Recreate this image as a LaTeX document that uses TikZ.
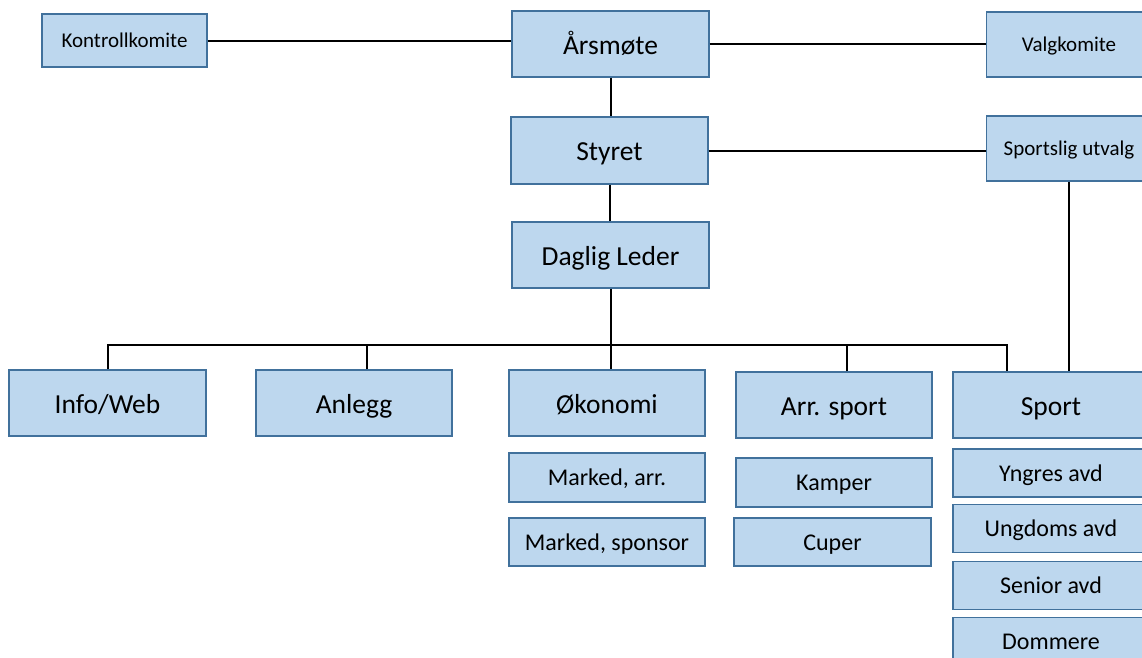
\documentclass[tikz,border=0pt]{standalone}
\usepackage{fontspec}
\setmainfont{Carlito}
\usepackage{xcolor}
\usepackage{tikz}
\usetikzlibrary{
        positioning
    }
\definecolor{boxfill}{HTML}{BDD7EE}
\definecolor{boxline}{HTML}{41719C}

\begin{document}
\begin{tikzpicture}[x=1pt, y=-1pt,
baseshape/.style={rectangle, draw=boxline, fill=boxfill, line width=1.2pt, inner sep=0pt, text centered, text depth=0pt},
mainbox/.style={baseshape, minimum width=197pt, minimum height=66pt, text height=20pt, font=\fontsize{27.5}{32}\selectfont},
subbox/.style={baseshape, minimum width=196pt, minimum height=48pt, text height=16.5pt, font=\fontsize{24}{28}\selectfont},
komite/.style={baseshape, minimum width=165pt, minimum height=65pt, text height=14.5pt, font=\fontsize{21}{25}\selectfont},
conn/.style={line width=2pt, black},
]
\useasboundingbox (0,0) rectangle (1142,657);
\clip (0,0) rectangle (1142,657);
\fill[white] (0,0) rectangle (1142,657);

\node (kontroll) [komite, minimum height=53pt] at (124.5,40.5) {Kontrollkomite};
\node (aarsmote) [mainbox] at (610.5,44) {Årsmøte};
\node (valg) [komite] at (1069,44.5) {Valgkomite};
\node (styret) [mainbox, minimum height=67pt] at (609.5,150.5) {Styret};
\node (sportslig) [komite] at (1069,148.5) {Sportslig utvalg};
\node (daglig) [mainbox] at (610.5,255) {Daglig Leder};

\node (info) [mainbox] at (107.5,403) {Info/Web};
\node (anlegg) [mainbox, minimum width=196pt] at (354,403) {Anlegg};
\node (okonomi) [mainbox, minimum width=196pt] at (607,403) {Økonomi};
\node (arrsport) [mainbox, minimum width=196pt] at (834,405) {Arr. sport};
\node (sport) [mainbox, minimum width=196pt] at (1051,405) {Sport};

\node (markarr) [subbox, minimum height=49pt] at (607,477.5) {Marked, arr.};
\node (marksponsor) [subbox] at (607,542) {Marked, sponsor};
\node (kamper) [subbox, minimum height=49pt] at (834,482.5) {Kamper};
\node (cuper) [subbox, minimum width=197pt] at (832.5,542) {Cuper};
\node (yngres) [subbox] at (1051,473) {Yngres avd};
\node (ungdoms) [subbox, below=6pt of yngres] {Ungdoms avd};
\node (senior) [subbox, below=8pt of ungdoms] {Senior avd};
\node (dommere) [subbox, below=7pt of senior] {Dommere};

\coordinate (busleft) at (107,345);
\coordinate (busright) at (1007,345);

\draw[conn] (kontroll.east) -- (kontroll.east -| aarsmote.west);
\draw[conn] (aarsmote.east) -- (aarsmote.east -| valg.west);
\draw[conn] (aarsmote.south) -- (aarsmote.south |- styret.north);
\draw[conn] (styret.east) -- (styret.east -| sportslig.west);
\draw[conn] (styret.south) -- (styret.south |- daglig.north);
\draw[conn] (daglig.south) -- (daglig.south |- okonomi.north);
\draw[conn] (info.north) -- (info.north |- busleft) -- (busright) -- (busright |- sport.north);
\draw[conn] ([xshift=13pt]anlegg.north) -- ([xshift=13pt]anlegg.north |- busleft);
\draw[conn] ([xshift=13pt]arrsport.north) -- ([xshift=13pt]arrsport.north |- busleft);
\draw[conn] (sportslig.south) -- (sportslig.south |- sport.north);

\end{tikzpicture}
\end{document}
